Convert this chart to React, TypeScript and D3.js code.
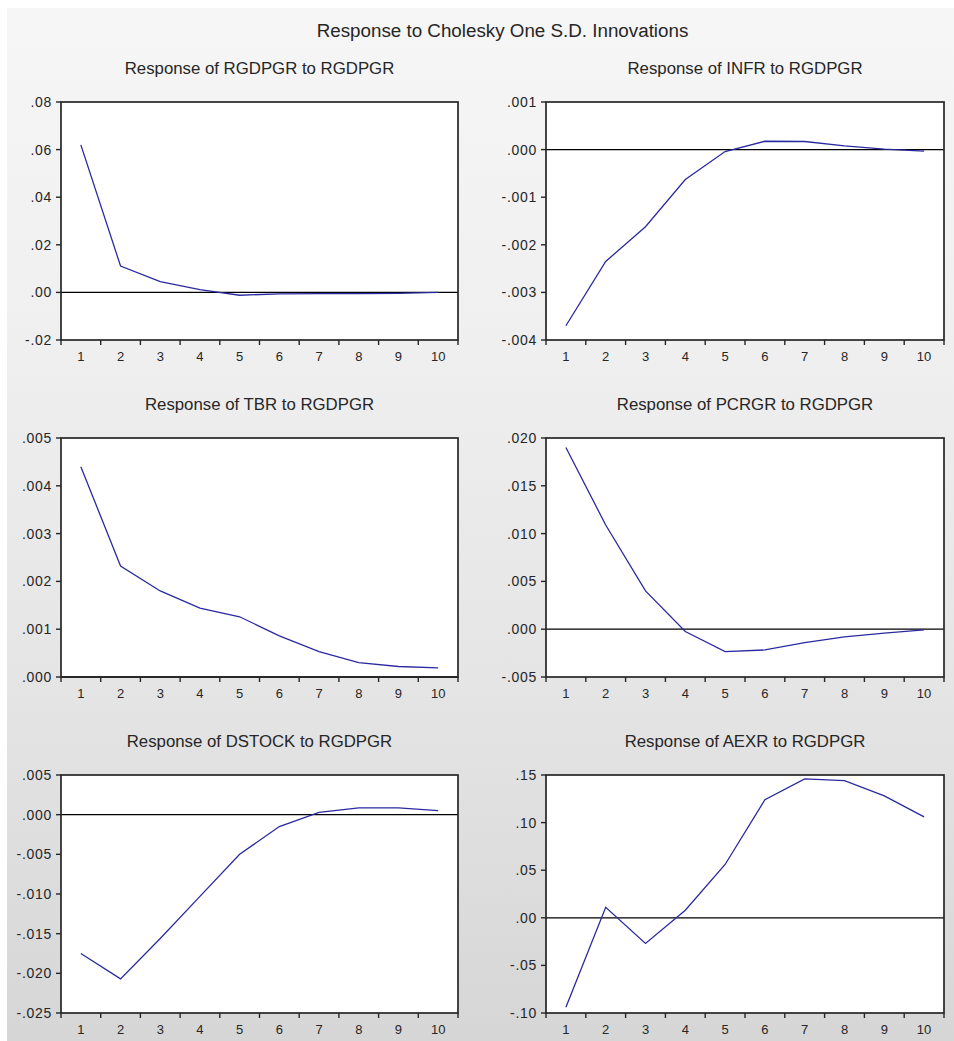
import React from "react";
import * as d3 from "d3";

// Impulse horizons (periods after the shock)
const HORIZONS = [1, 2, 3, 4, 5, 6, 7, 8, 9, 10];

// Responses to a one S.D. RGDPGR innovation
const RESP_RGDPGR = [0.062, 0.0111, 0.0045, 0.0012, -0.0012, -0.0006, -0.0005, -0.0005, -0.0004, 0.0];
const RESP_INFR = [-0.0037, -0.00235, -0.00162, -0.00063, -0.00004, 0.000175, 0.00017, 0.00008, 0.00001, -0.00003];
const RESP_TBR = [0.0044, 0.00232, 0.0018, 0.00144, 0.00126, 0.00086, 0.00053, 0.0003, 0.00022, 0.00019];
const RESP_PCRGR = [0.019, 0.0109, 0.004, -0.00024, -0.00234, -0.00217, -0.0014, -0.0008, -0.00042, -0.00007];
const RESP_DSTOCK = [-0.0175, -0.0207, -0.0156, -0.0103, -0.005, -0.0015, 0.0003, 0.00085, 0.00085, 0.0005];
const RESP_AEXR = [-0.094, 0.011, -0.027, 0.008, 0.056, 0.124, 0.146, 0.144, 0.128, 0.106];

// Y-axis tick values for each panel
const TICKS_RGDPGR = [-0.02, 0.0, 0.02, 0.04, 0.06, 0.08];
const TICKS_INFR = [-0.004, -0.003, -0.002, -0.001, 0.0, 0.001];
const TICKS_TBR = [0.0, 0.001, 0.002, 0.003, 0.004, 0.005];
const TICKS_PCRGR = [-0.005, 0.0, 0.005, 0.01, 0.015, 0.02];
const TICKS_DSTOCK = [-0.025, -0.02, -0.015, -0.01, -0.005, 0.0, 0.005];
const TICKS_AEXR = [-0.1, -0.05, 0.0, 0.05, 0.1, 0.15];

const MAIN_TITLE = "Response to Cholesky One S.D. Innovations";

const panels = [
  { title: "Response of RGDPGR to RGDPGR", values: RESP_RGDPGR, ticks: TICKS_RGDPGR, digits: 2 },
  { title: "Response of INFR to RGDPGR", values: RESP_INFR, ticks: TICKS_INFR, digits: 3 },
  { title: "Response of TBR to RGDPGR", values: RESP_TBR, ticks: TICKS_TBR, digits: 3 },
  { title: "Response of PCRGR to RGDPGR", values: RESP_PCRGR, ticks: TICKS_PCRGR, digits: 3 },
  { title: "Response of DSTOCK to RGDPGR", values: RESP_DSTOCK, ticks: TICKS_DSTOCK, digits: 3 },
  { title: "Response of AEXR to RGDPGR", values: RESP_AEXR, ticks: TICKS_AEXR, digits: 2 },
];

const W = 954;
const H = 1041;
const COL_X = [[61, 458], [546, 944]];
const ROW_Y = [[102, 340], [438, 677], [775, 1013]];
const FONT = "'Liberation Sans', Arial, sans-serif";
const TEXT = "#262626";

function fmt(v: number, digits: number) {
  return d3
    .format(`.${digits}f`)(v)
    .replace("\u2212", "-")
    .replace("0.", ".");
}

function Panel({ p, col, row }: { p: (typeof panels)[number]; col: number; row: number }) {
  const [x0, x1] = COL_X[col];
  const [y0, y1] = ROW_Y[row];
  const ticks = p.ticks;
  const x = d3.scaleLinear().domain([0.5, 10.5]).range([x0, x1]);
  const y = d3
    .scaleLinear()
    .domain([ticks[0], ticks[ticks.length - 1]])
    .range([y1, y0]);
  const line = d3
    .line<number>()
    .x((_, i) => x(HORIZONS[i]))
    .y((d) => y(d));
  const xTicks = d3.range(0.5, 11, 1);
  return (
    <g>
      <text
        x={(x0 + x1) / 2}
        y={y0 - 34}
        textAnchor="middle"
        dominantBaseline="central"
        fontFamily={FONT}
        fontSize={16.8}
        fill={TEXT}
      >
        {p.title}
      </text>
      <rect x={x0} y={y0} width={x1 - x0} height={y1 - y0} fill="#ffffff" />
      {/* zero reference line */}
      <line x1={x0} x2={x1} y1={y(0)} y2={y(0)} stroke="#000" strokeWidth={1.3} />
      <path d={line(p.values) || ""} fill="none" stroke="#2a2aa0" strokeWidth={1.3} />
      <rect
        x={x0}
        y={y0}
        width={x1 - x0}
        height={y1 - y0}
        fill="none"
        stroke="#262626"
        strokeWidth={1.7}
      />
      {ticks.map((t) => (
        <g key={"y" + t}>
          <line x1={x0 - 5} x2={x0} y1={y(t)} y2={y(t)} stroke="#262626" strokeWidth={1.4} />
          <text
            x={x0 - 9}
            y={y(t)}
            textAnchor="end"
            dominantBaseline="central"
            fontFamily={FONT}
            fontSize={14}
            letterSpacing={0.7}
            fill={TEXT}
          >
            {fmt(t, p.digits)}
          </text>
        </g>
      ))}
      {xTicks.map((t) => (
        <line key={"x" + t} x1={x(t)} x2={x(t)} y1={y1} y2={y1 + 5} stroke="#262626" strokeWidth={1.4} />
      ))}
      {HORIZONS.map((h) => (
        <text
          key={"l" + h}
          x={x(h)}
          y={y1 + 16}
          textAnchor="middle"
          dominantBaseline="central"
          fontFamily={FONT}
          fontSize={13}
          fill={TEXT}
        >
          {h}
        </text>
      ))}
    </g>
  );
}

export default function App() {
  return (
    <svg
      width={W}
      height={H}
      style={{ position: "absolute", left: 0, top: 0, background: "#ffffff" }}
    >
      <defs>
        <linearGradient id="bg" x1="0" y1="0" x2="0" y2="1">
          <stop offset="0" stopColor="#f6f6f6" />
          <stop offset="0.3" stopColor="#f0f0f0" />
          <stop offset="0.65" stopColor="#e5e5e5" />
          <stop offset="1" stopColor="#d6d6d6" />
        </linearGradient>
      </defs>
      <rect x={7} y={8} width={W - 7} height={H - 8} fill="url(#bg)" />
      <text
        x={(COL_X[0][0] + COL_X[1][1]) / 2}
        y={30}
        textAnchor="middle"
        dominantBaseline="central"
        fontFamily={FONT}
        fontSize={18.8}
        fill={TEXT}
      >
        {MAIN_TITLE}
      </text>
      {panels.map((p, i) => (
        <Panel key={p.title} p={p} col={i % 2} row={Math.floor(i / 2)} />
      ))}
    </svg>
  );
}
